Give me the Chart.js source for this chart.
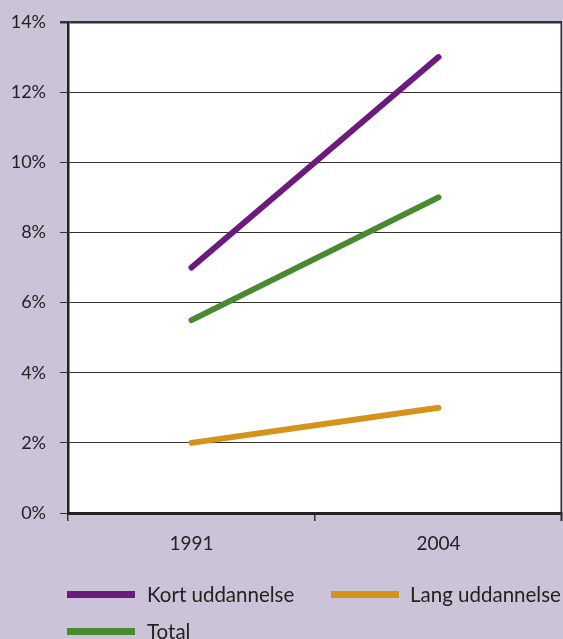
<!DOCTYPE html>
<html>
<head>
<meta charset="utf-8">
<script src="https://cdn.jsdelivr.net/npm/chart.js@4/dist/chart.umd.min.js"></script>
<style>
  html, body { margin: 0; padding: 0; background: #cbc3d7; }
  #wrap { position: relative; width: 563px; height: 639px; overflow: hidden; background: #cbc3d7; }
  #c { position: absolute; left: 0; top: 0; }
  .lg { position: absolute; font-family: Lato, "DejaVu Sans", sans-serif; font-size: 20.5px; color: #222; white-space: nowrap; line-height: 1; }
  .sw { position: absolute; width: 68px; height: 7px; }
</style>
</head>
<body>
<div id="wrap">
  <canvas id="c" width="563" height="639"></canvas>
</div>
<script>
const categories = ['1991', '2004'];
const kortValues = [7, 13];
const langValues = [2, 3];
const totalValues = [5.5, 9];
const seriesNames = ['Kort uddannelse', 'Lang uddannelse', 'Total'];
const seriesColors = ['#6b1b7b', '#d4931b', '#4a8a2e'];
const yMin = 0, yMax = 14, yStep = 2;

const areaPlugin = {
  id: 'areaStyle',
  beforeDraw(chart) {
    const a = chart.chartArea, ctx = chart.ctx;
    ctx.save();
    ctx.fillStyle = '#ffffff';
    ctx.fillRect(a.left, a.top, a.right - a.left, a.bottom - a.top);
    ctx.restore();
  },
  afterDraw(chart) {
    const a = chart.chartArea, ctx = chart.ctx;
    ctx.save();
    ctx.strokeStyle = '#2a2a2a';
    ctx.lineWidth = 1.5;
    ctx.beginPath();
    ctx.moveTo(a.right - 0.75, a.top);
    ctx.lineTo(a.right - 0.75, a.bottom + 8);
    ctx.stroke();
    ctx.restore();
  }
};

new Chart(document.getElementById('c'), {
  type: 'line',
  data: {
    labels: categories,
    datasets: [
      { label: seriesNames[0], data: kortValues, borderColor: seriesColors[0], backgroundColor: seriesColors[0] },
      { label: seriesNames[1], data: langValues, borderColor: seriesColors[1], backgroundColor: seriesColors[1] },
      { label: seriesNames[2], data: totalValues, borderColor: seriesColors[2], backgroundColor: seriesColors[2] }
    ].map(d => Object.assign(d, { borderWidth: 6, borderCapStyle: 'round', pointRadius: 0, tension: 0, fill: false }))
  },
  options: {
    responsive: false,
    animation: false,
    devicePixelRatio: 1,
    layout: { padding: { top: 22, right: 1, left: 0, bottom: 0 } },
    plugins: { legend: { display: false }, tooltip: { enabled: false } },
    scales: {
      x: {
        type: 'category',
        offset: true,
        afterFit: s => { s.height = 126; s.paddingLeft = 0; s.paddingRight = 0; },
        grid: { offset: true, drawOnChartArea: false, drawTicks: true, tickLength: 8, tickColor: '#333', lineWidth: 1.5 },
        border: { display: true, color: '#222', width: 3 },
        ticks: { color: '#222', font: { family: 'Lato', size: 19 }, padding: 11, maxRotation: 0 }
      },
      y: {
        min: yMin, max: yMax,
        afterFit: s => { s.width = 68; s.paddingTop = 0; s.paddingBottom = 0; },
        grid: {
          color: '#333', tickColor: '#333', tickLength: 8,
          lineWidth: c => (c.tick && c.tick.value === yMax) ? 2.5 : 1
        },
        border: { display: true, color: '#222', width: 2.5 },
        ticks: { stepSize: yStep, color: '#222', padding: 14, font: { family: 'Lato', size: 18 }, callback: v => v + '%' }
      }
    }
  },
  plugins: [areaPlugin]
});

// legend (HTML)
const legendPos = [
  { sx: 67, sy: 591, tx: 147 },
  { sx: 331, sy: 591, tx: 410 },
  { sx: 67, sy: 628, tx: 147 }
];
const wrap = document.getElementById('wrap');
seriesNames.forEach((n, i) => {
  const p = legendPos[i];
  const sw = document.createElement('div');
  sw.className = 'sw';
  sw.style.left = p.sx + 'px'; sw.style.top = p.sy + 'px';
  sw.style.background = seriesColors[i];
  wrap.appendChild(sw);
  const t = document.createElement('div');
  t.className = 'lg';
  t.textContent = n;
  t.style.left = p.tx + 'px'; t.style.top = (p.sy - 7) + 'px';
  wrap.appendChild(t);
});
</script>
</body>
</html>
